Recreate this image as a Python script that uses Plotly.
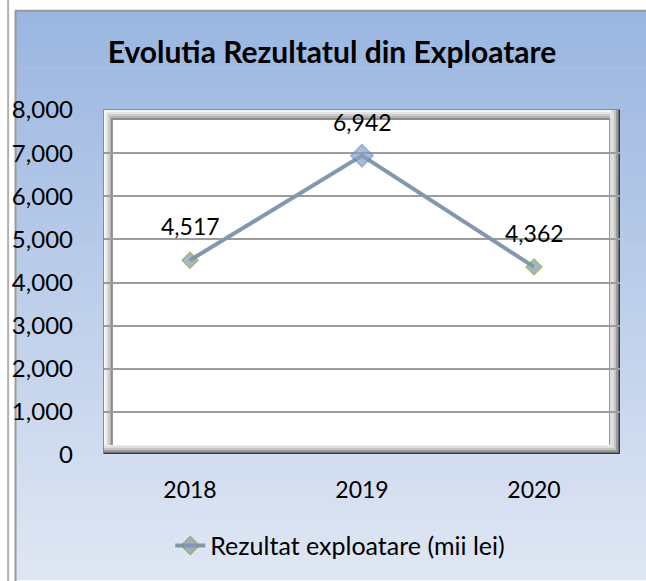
import plotly.graph_objects as go

# ---- data ----
years = ["2018", "2019", "2020"]
values = [4517, 6942, 4362]
series_name = "Rezultat exploatare (mii lei)"
title_text = "Evolutia Rezultatul din Exploatare"
y_ticks = [0, 1000, 2000, 3000, 4000, 5000, 6000, 7000, 8000]

x_pos = list(range(len(years)))

# ---- layout geometry (pixels) ----
W, H = 646, 581
L, R, T, B = 98, 620, 110, 456
FONT = "Lato, 'Open Sans', sans-serif"


def px(x):
    return (x - L) / (R - L)


def py(y):
    return (B - y) / (B - T)


def rect(x0, y0, x1, y1, fill, line=None, lw=0):
    return dict(type="rect", xref="paper", yref="paper", layer="below",
                x0=px(x0), x1=px(x1), y0=py(y1), y1=py(y0),
                fillcolor=fill, line=dict(color=line or fill, width=lw))


def hline(x0, x1, y, color, lw=1):
    return dict(type="line", xref="paper", yref="paper", layer="below",
                x0=px(x0), x1=px(x1), y0=py(y), y1=py(y),
                line=dict(color=color, width=lw))


def vline(x, y0, y1, color, lw=1):
    return dict(type="line", xref="paper", yref="paper", layer="below",
                x0=px(x), x1=px(x), y0=py(y0), y1=py(y1),
                line=dict(color=color, width=lw))


shapes = []
# background gradient of chart area
top_c = (154, 182, 224)
bot_c = (223, 230, 243)
N = 70
y_start, y_end = 10, 581
for i in range(N):
    t = i / (N - 1)
    c = tuple(round(top_c[k] + (bot_c[k] - top_c[k]) * t) for k in range(3))
    ya = y_start + (y_end - y_start) * i / N
    yb = y_start + (y_end - y_start) * (i + 1) / N + 0.6
    shapes.append(rect(8, ya, W + 2, yb, "rgb(%d,%d,%d)" % c))
# frame lines
shapes.append(vline(8.5, 10, H + 2, "#9a9a9a", 2))
shapes.append(hline(8, W + 2, 10.5, "#9a9a9a", 2))
shapes.append(vline(1, 0, H + 2, "#b0b0b0", 2))

# plot-area bevel: right / bottom dark shading
dark_steps = [
    (620, 455, "#3a3a3a"),
    (619, 454, "#6a6a6a"),
    (618, 453, "#9a9a9a"),
    (616, 451, "#c4c4c4"),
    (614, 449, "#dedede"),
    (611, 447, "#efefef"),
]
for x1, y1, c in dark_steps:
    shapes.append(rect(97, 109, x1, y1, c))
# left / top light bevel
light_steps = [
    (98, 110, "#f6f6f6"),
    (100, 112, "#e4e4e4"),
    (102, 114, "#cdcdcd"),
    (104, 116, "#b4b4b4"),
    (105, 118, "#8c8c8c"),
]
for x0, y0, c in light_steps:
    shapes.append(rect(x0, y0, 610, 446, c))
shapes.append(rect(107, 120, 609, 446, "#ffffff"))
# outer top/left edge line
shapes.append(hline(97, 620, 109.5, "#8a8a8a", 1))
shapes.append(vline(97.5, 109, 455, "#8a8a8a", 1))

fig = go.Figure()
fig.add_trace(go.Scatter(
    x=x_pos, y=values, mode="lines+markers", name=series_name,
    line=dict(color="#8497b0", width=4),
    marker=dict(symbol="diamond", size=[12, 17, 12],
                color=["#8497b0", "#8b9dc0", "#8497b0"],
                line=dict(color=["#77a043", "#5b8fdc", "#77a043"], width=1.6)),
    showlegend=True,
    hoverinfo="skip",
))

annotations = []
for xp, v in zip(x_pos, values):
    annotations.append(dict(
        x=xp, y=v, xref="x", yref="y", text=f"{v:,}", showarrow=False,
        yshift=34, font=dict(family=FONT, size=23, color="#000000"),
    ))

fig.update_layout(
    width=W, height=H,
    margin=dict(l=L, r=W - R, t=T, b=H - B, pad=0),
    paper_bgcolor="#ffffff",
    plot_bgcolor="rgba(0,0,0,0)",
    font=dict(family=FONT, size=23, color="#000000"),
    title=dict(text="<b>" + title_text + "</b>", x=332 / W, xanchor="center",
               y=1 - 52 / H, yanchor="middle", yref="container",
               font=dict(family=FONT, size=30, color="#000000")),
    xaxis=dict(range=[-0.5, len(years) - 0.5], tickvals=x_pos, ticktext=years,
               showgrid=False, zeroline=False, showline=False,
               ticks="", ticklabelstandoff=19,
               tickfont=dict(family=FONT, size=23, color="#000000")),
    yaxis=dict(range=[0, 8000], tickvals=y_ticks, tickformat=",",
               showgrid=True, gridcolor="#9c9c9c", gridwidth=1.5,
               zeroline=False, showline=False, ticks="", ticklabelstandoff=30,
               tickfont=dict(family=FONT, size=24, color="#000000")),
    legend=dict(orientation="h", x=px(337), xanchor="center",
                y=py(547), yanchor="middle", bgcolor="rgba(0,0,0,0)",
                font=dict(family=FONT, size=25, color="#000000")),
    hovermode=False,
    shapes=shapes,
    annotations=annotations,
)

fig.write_html(
    "out.html",
    config={"displayModeBar": False},
    post_script="document.body.style.margin='0';"
                "document.documentElement.style.overflow='hidden';",
)
